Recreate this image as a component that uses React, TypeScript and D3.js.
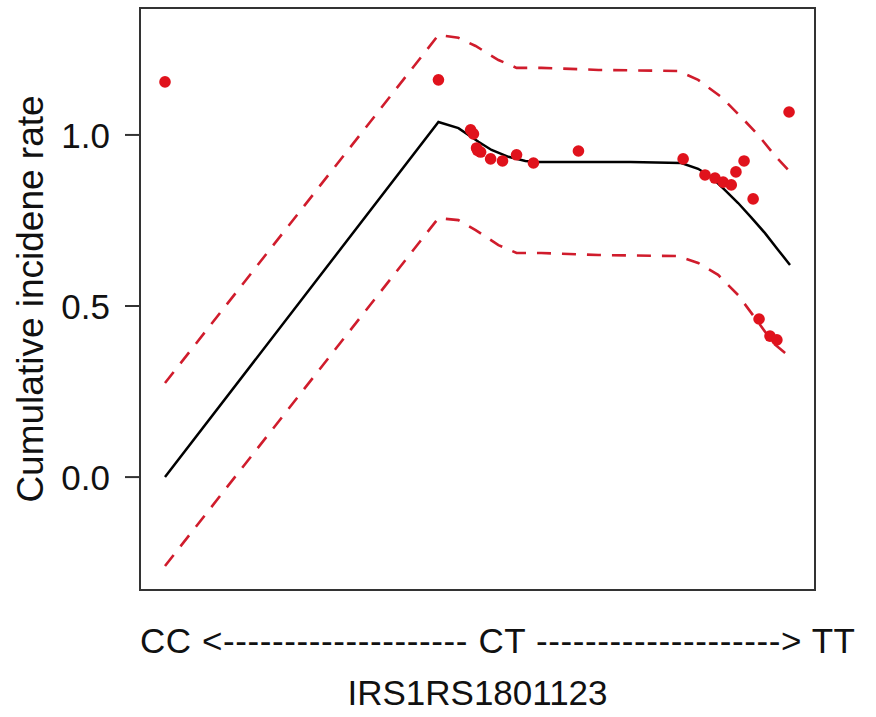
import React from 'react';
import * as d3 from 'd3';

// genotype axis: CC = 0, CT ~ 1, TT = 2
const fitX = [0, 0.875, 0.939, 1.003, 1.045, 1.099, 1.153, 1.195, 1.489, 1.652, 1.706, 1.748, 1.792, 1.834, 1.875, 1.92, 1.962, 2.0];
const fitY = [0, 1.038, 1.02, 0.98, 0.956, 0.936, 0.924, 0.921, 0.921, 0.918, 0.901, 0.877, 0.839, 0.801, 0.76, 0.713, 0.664, 0.62];

const upperX = [0, 0.875, 0.939, 0.994, 1.067, 1.125, 1.204, 1.387, 1.642, 1.706, 1.78, 1.843, 1.898, 1.955, 2.0];
const upperY = [0.275, 1.292, 1.284, 1.26, 1.219, 1.196, 1.196, 1.19, 1.187, 1.161, 1.111, 1.053, 1.0, 0.936, 0.892];

const lowerX = [0, 0.875, 0.939, 0.994, 1.067, 1.125, 1.204, 1.387, 1.642, 1.706, 1.77, 1.834, 1.898, 1.946, 2.0];
const lowerY = [-0.26, 0.757, 0.751, 0.722, 0.678, 0.655, 0.655, 0.649, 0.646, 0.626, 0.591, 0.532, 0.453, 0.392, 0.351];

const pointX = [0, 0.875, 0.978, 0.987, 0.997, 1.01, 1.0, 1.042, 1.08, 1.125, 1.179, 1.323, 1.658, 1.728, 1.76, 1.786, 1.812, 1.827, 1.853, 1.882, 1.997, 1.901, 1.936, 1.958];
const pointY = [1.155, 1.161, 1.015, 1.003, 0.962, 0.95, 0.955, 0.93, 0.924, 0.942, 0.918, 0.953, 0.93, 0.883, 0.874, 0.862, 0.854, 0.892, 0.924, 0.813, 1.067, 0.462, 0.412, 0.401];

const yTicks = [0, 0.5, 1.0];

const App = () => {
  const W = 876, H = 717;
  const left = 140, right = 815, top = 8, bottom = 590;

  // R style 4% padding around the data range
  const xDom: [number, number] = [0, 2];
  const yDom: [number, number] = [-0.267, 1.308];
  const xPad = (xDom[1] - xDom[0]) * 0.04;
  const yPad = (yDom[1] - yDom[0]) * 0.04;
  const x = d3.scaleLinear().domain([xDom[0] - xPad, xDom[1] + xPad]).range([left, right]);
  const y = d3.scaleLinear().domain([yDom[0] - yPad, yDom[1] + yPad]).range([bottom, top]);

  const line = d3.line<[number, number]>().x(d => x(d[0])).y(d => y(d[1]));
  const zip = (a: number[], b: number[]) => a.map((v, i) => [v, b[i]] as [number, number]);

  const font = "'Liberation Sans', Arial, sans-serif";
  const red = "#e0121c";
  const dashRed = "#d01c2c";
  const dashes = "-".repeat(20);

  return (
    <svg width={W} height={H} style={{ position: 'absolute', left: 0, top: 0, background: '#fff' }}>
      <rect x={0} y={0} width={W} height={H} fill="#fff" />

      {/* confidence bands */}
      <path d={line(zip(upperX, upperY)) || ''} fill="none" stroke={dashRed} strokeWidth={2.6} strokeDasharray="14,11" />
      <path d={line(zip(lowerX, lowerY)) || ''} fill="none" stroke={dashRed} strokeWidth={2.6} strokeDasharray="14,11" />

      {/* fitted curve */}
      <path d={line(zip(fitX, fitY)) || ''} fill="none" stroke="#000" strokeWidth={2.5} />

      {/* observed points */}
      {pointX.map((v, i) => (
        <circle key={i} cx={x(v)} cy={y(pointY[i])} r={5.8} fill={red} />
      ))}

      {/* box */}
      <rect x={left} y={top} width={right - left} height={bottom - top} fill="none" stroke="#333" strokeWidth={2} />

      {/* y axis */}
      {yTicks.map(t => (
        <g key={t}>
          <line x1={left - 15} x2={left} y1={y(t)} y2={y(t)} stroke="#333" strokeWidth={2} />
          <text x={110} y={y(t)} dy="0.36em" textAnchor="end" fontFamily={font} fontSize={35} fill="#111">
            {d3.format('.1f')(t)}
          </text>
        </g>
      ))}
      <text transform={`translate(43,${(top + bottom) / 2}) rotate(-90)`} textAnchor="middle"
        fontFamily={font} fontSize={37} fill="#111">
        Cumulative incidene rate
      </text>

      {/* x labels */}
      <text x={140} y={653} textLength={715} lengthAdjust="spacing" fontFamily={font} fontSize={35} fill="#111">
        {`CC <${dashes} CT ${dashes}> TT`}
      </text>
      <text x={(left + right) / 2} y={705} textAnchor="middle" fontFamily={font} fontSize={35} fill="#111">
        IRS1RS1801123
      </text>
    </svg>
  );
};

export default App;
